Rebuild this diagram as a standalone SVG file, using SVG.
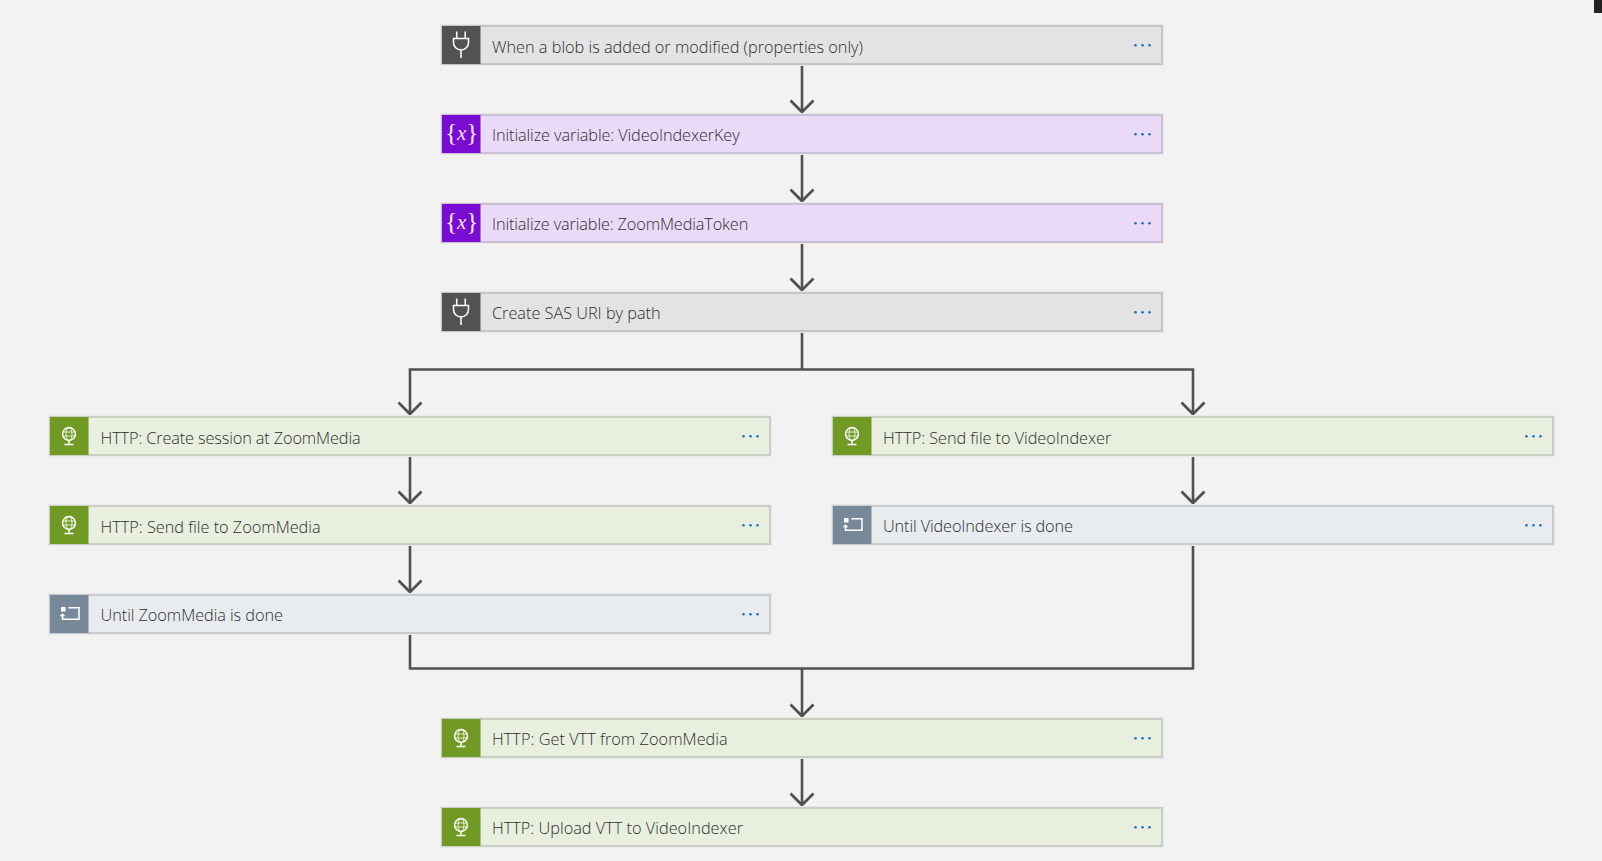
<svg xmlns="http://www.w3.org/2000/svg" width="1602" height="861" viewBox="0 0 1602 861">
<style>
.gray{--f:#e3e3e3;--s:#c6c6c6;--i:#515353}
.purple{--f:#ebdaf7;--s:#cbbfd6;--i:#7a0bd3}
.green{--f:#e8efdf;--s:#c9cec3;--i:#719a25}
.slate{--f:#e9ecef;--s:#c9cbce;--i:#778899}
.box{stroke-width:2;fill:var(--f);stroke:var(--s)}
.ic{fill:var(--i)}
.halo{fill:none;stroke:#e8e8e8;stroke-width:1}
text.t{font-family:"Open Sans","Noto Sans",sans-serif;font-size:16.3px;font-weight:300;fill:#2e2e2e}
.conn path{fill:none;stroke:#505050;stroke-width:2.6}
.glyph{fill:none;stroke:#fff;stroke-width:1.5}
.fillw{fill:#fff;stroke:none}
.brace{font-family:"Liberation Serif",serif;fill:#fff;font-size:26px;fill-opacity:.92}
.xvar{font-family:"Liberation Serif",serif;fill:#fff;font-size:21px;font-style:italic;fill-opacity:.92}
.dots circle{fill:#1a6fc0}
</style>
<defs>
<marker id="arrow" markerUnits="userSpaceOnUse" markerWidth="16" markerHeight="30" viewBox="-14 -15 16 30" refX="0" refY="0" orient="auto">
<path d="M-11.5 -11.5L0 0L-11.5 11.5" fill="none" stroke="#505050" stroke-width="2.8"/>
</marker>
<g id="dots"><g class="dots"><circle cx="694.5" cy="20.3" r="1.3"/><circle cx="701.5" cy="20.3" r="1.3"/><circle cx="708.5" cy="20.3" r="1.3"/></g></g>
<g id="shell"><rect class="halo" x="-0.5" y="-0.5" width="723" height="41"/><rect class="box" x="1" y="1" width="720" height="38"/><rect class="ic" x="1" y="1" width="38.5" height="38"/><use href="#dots"/></g>
<g id="plug"><path class="glyph" d="M15.7 6.5V13.5M24.2 6.5V13.5M12.5 13.5H27.5V17.5A7.5 7.5 0 0 1 12.5 17.5ZM20 25V33"/></g>
<g id="globe"><circle class="glyph" cx="20" cy="18" r="6.4"/><ellipse cx="20" cy="18" rx="3" ry="6.4" fill="none" stroke="#fff" stroke-width=".8"/><path d="M13.6 16H26.4M13.6 20H26.4" fill="none" stroke="#fff" stroke-width=".8"/><path class="glyph" d="M20 24.4V27.5M15.5 28.4H24.5"/></g>
<g id="loop"><rect class="fillw" x="12" y="13" width="4.5" height="4.5"/><path class="glyph" d="M19.5 13.8H30V25.2H13.5V20.5M11.5 22.3L13.5 20.3L15.5 22.3"/></g>
<g id="var"><text class="brace" x="4" y="27">{</text><text class="xvar" x="16" y="25.5">x</text><text class="brace" x="25" y="27">}</text></g>
</defs>
<rect width="1602" height="861" fill="#f2f2f2"/>
<rect x="1594" y="0" width="8" height="13" fill="#222"/>
<g id="connectors" class="conn">
<path marker-end="url(#arrow)" d="M802 65V112"/>
<path marker-end="url(#arrow)" d="M802 154V201"/>
<path marker-end="url(#arrow)" d="M802 243V290"/>
<path d="M802 332V369.5"/>
<path marker-end="url(#arrow)" d="M802 369.5H410V414"/>
<path marker-end="url(#arrow)" d="M802 369.5H1193V414"/>
<path marker-end="url(#arrow)" d="M410 456V503"/>
<path marker-end="url(#arrow)" d="M410 545V592"/>
<path marker-end="url(#arrow)" d="M1193 456V503"/>
<path d="M410 634V668.5H1193V545"/>
<path marker-end="url(#arrow)" d="M802 668.5V716"/>
<path marker-end="url(#arrow)" d="M802 758V805"/>
</g>
<g id="n1" class="gray" transform="translate(441 25)"><use href="#shell"/><use href="#plug"/><text class="t" x="51" y="28" textLength="371">When a blob is added or modified (properties only)</text></g>
<g id="n2" class="purple" transform="translate(441 114)"><use href="#shell"/><use href="#var"/><text class="t" x="51" y="27.3" textLength="247.7">Initialize variable: VideoIndexerKey</text></g>
<g id="n3" class="purple" transform="translate(441 203)"><use href="#shell"/><use href="#var"/><text class="t" x="51" y="27.3" textLength="256.3">Initialize variable: ZoomMediaToken</text></g>
<g id="n4" class="gray" transform="translate(441 292)"><use href="#shell"/><use href="#plug"/><text class="t" x="51" y="27.3" textLength="168.6">Create SAS URI by path</text></g>
<g id="n5" class="green" transform="translate(49 416)"><use href="#shell"/><use href="#globe"/><text class="t" x="51.6" y="28" textLength="260">HTTP: Create session at ZoomMedia</text></g>
<g id="n6" class="green" transform="translate(49 505)"><use href="#shell"/><use href="#globe"/><text class="t" x="51.6" y="28" textLength="220">HTTP: Send file to ZoomMedia</text></g>
<g id="n7" class="slate" transform="translate(49 594)"><use href="#shell"/><use href="#loop"/><text class="t" x="51.6" y="27.3" textLength="182.3">Until ZoomMedia is done</text></g>
<g id="n8" class="green" transform="translate(832 416)"><use href="#shell"/><use href="#globe"/><text class="t" x="51" y="28" textLength="228.3">HTTP: Send file to VideoIndexer</text></g>
<g id="n9" class="slate" transform="translate(832 505)"><use href="#shell"/><use href="#loop"/><text class="t" x="51" y="27.3" textLength="190">Until VideoIndexer is done</text></g>
<g id="n10" class="green" transform="translate(441 718)"><use href="#shell"/><use href="#globe"/><text class="t" x="51" y="27.3" textLength="235.7">HTTP: Get VTT from ZoomMedia</text></g>
<g id="n11" class="green" transform="translate(441 807)"><use href="#shell"/><use href="#globe"/><text class="t" x="51" y="27.3" textLength="251">HTTP: Upload VTT to VideoIndexer</text></g>
</svg>
